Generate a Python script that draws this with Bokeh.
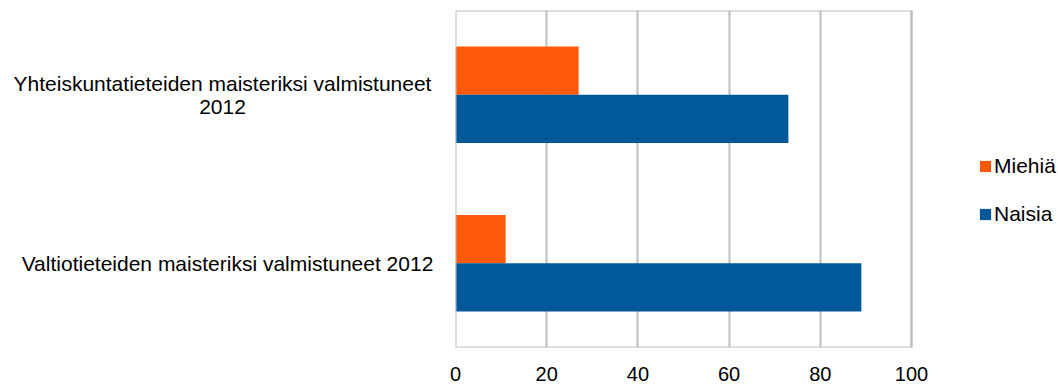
from bokeh.plotting import figure
from bokeh.layouts import row
from bokeh.models import (Range1d, Legend, LegendItem, FixedTicker, ColumnDataSource,
                          BoxAnnotation)
from bokeh.core.properties import value
from bokeh.embed import file_html
from bokeh.resources import INLINE

# Degree programmes (bottom to top) and share of graduates by gender, %
categories = [
    "Valtiotieteiden maisteriksi valmistuneet 2012",
    "Yhteiskuntatieteiden maisteriksi valmistuneet\n2012",
]
miehia = [11, 27]
naisia = [89, 73]
x_ticks = [0, 20, 40, 60, 80, 100]

ORANGE = "#ff5a0b"
BLUE = "#02599a"
GRID = "#bdbdbd"
FONT = "Liberation Sans"

# each category takes one unit band on the y scale
bar_h = 0.286
centres = [i + 0.5 for i in range(len(categories))]
src = ColumnDataSource(data=dict(
    cat=categories, miehia=miehia, naisia=naisia,
    y_m=[c + bar_h / 2 for c in centres],
    y_n=[c - bar_h / 2 for c in centres],
))
y_range = Range1d(0, len(categories))

# the chart panel: a 456 px wide value box (0-100) plus room for the legend
lab_w, gap = 435, 20
box_px, frame_px = 456, 603
x_max = x_ticks[-1]
p = figure(
    width=gap + frame_px, height=385,
    y_range=y_range, x_range=Range1d(0, x_max * frame_px / box_px),
    output_backend="svg", toolbar_location=None,
    min_border_left=gap, min_border_right=0,
    min_border_top=10, min_border_bottom=38,
)
p.background_fill_color = "white"
p.border_fill_color = "white"
p.outline_line_color = None

r_m = p.hbar(y="y_m", left=0, right="miehia", height=bar_h, source=src,
             fill_color=ORANGE, line_color=None)
r_n = p.hbar(y="y_n", left=0, right="naisia", height=bar_h, source=src,
             fill_color=BLUE, line_color=None)

# frame around the value area
p.add_layout(BoxAnnotation(left=0, right=x_max, bottom=y_range.start, top=y_range.end,
                           fill_alpha=0, line_color=GRID, line_alpha=1, line_width=2))

p.xaxis.ticker = FixedTicker(ticks=x_ticks)
p.xaxis.axis_line_color = None
p.xaxis.major_tick_line_color = None
p.xaxis.minor_tick_line_color = None
p.xaxis.major_tick_out = 0
p.xaxis.major_label_standoff = 19
p.xaxis.major_label_text_font = FONT
p.xaxis.major_label_text_font_size = "20px"
p.xaxis.major_label_text_color = "black"
p.yaxis.visible = False

p.xgrid.ticker = FixedTicker(ticks=x_ticks)
p.xgrid.grid_line_color = GRID
p.xgrid.grid_line_width = 2
p.ygrid.grid_line_color = None

legend = Legend(
    items=[LegendItem(label="Miehiä", renderers=[r_m]),
           LegendItem(label="Naisia", renderers=[r_n])],
    location=(523, 121),
    orientation="vertical",
    glyph_width=14, glyph_height=14,
    label_height=24, label_standoff=2, spacing=24,
    padding=0, margin=0,
    border_line_color=None, background_fill_alpha=0,
    label_text_font=FONT, label_text_font_size="21px", label_text_color="black",
)
p.add_layout(legend)

# category names, each block centred on its own lines
lab = figure(
    width=lab_w, height=385,
    y_range=y_range, x_range=Range1d(0, lab_w),
    output_backend="svg", toolbar_location=None,
    x_axis_type=None, y_axis_type=None,
    min_border_left=0, min_border_right=0,
    min_border_top=10, min_border_bottom=38,
)
lab.outline_line_color = None
lab.grid.visible = False
lab.text(x=[227, 222], y=centres, text=categories,
         text_align="center", text_baseline="middle",
         text_font=value(FONT), text_font_size="21px", text_color="black",
         text_line_height=1.0)

layout = row(lab, p, spacing=0)
open("out.html", "w").write(file_html(layout, INLINE))
